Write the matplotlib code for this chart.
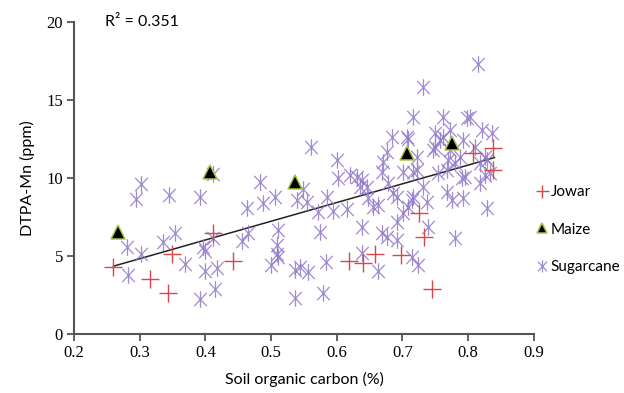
import numpy as np
import matplotlib
matplotlib.use("Agg")
import matplotlib.pyplot as plt
from matplotlib.path import Path

# Jowar (red +)
jowar_x = [0.259, 0.316, 0.343, 0.349, 0.412, 0.442, 0.619, 0.640, 0.658, 0.698,
           0.725, 0.733, 0.745, 0.807, 0.838, 0.838]
jowar_y = [4.3, 3.5, 2.65, 5.15, 6.5, 4.7, 4.7, 4.55, 5.1, 5.05,
           7.75, 6.2, 2.9, 11.6, 11.9, 10.5]

# Maize (black triangles)
maize_x = [0.267, 0.407, 0.536, 0.707, 0.775]
maize_y = [6.55, 10.4, 9.75, 11.6, 12.25]

# Sugarcane (purple asterisks)
sugar_x = [0.281, 0.282, 0.294, 0.302, 0.302, 0.335, 0.345, 0.354, 0.369, 0.392,
           0.392, 0.396, 0.399, 0.399, 0.412, 0.412, 0.415, 0.418, 0.456, 0.465,
           0.463, 0.483, 0.488, 0.506, 0.500, 0.509, 0.509, 0.511, 0.511, 0.536,
           0.536, 0.539, 0.549, 0.555, 0.556, 0.561, 0.571, 0.574, 0.579, 0.584,
           0.585, 0.594, 0.600, 0.602, 0.616, 0.620, 0.631, 0.635, 0.638, 0.646,
           0.638, 0.638, 0.647, 0.655, 0.663, 0.663, 0.669, 0.669, 0.676, 0.670,
           0.676, 0.684, 0.678, 0.686, 0.692, 0.692, 0.692, 0.701, 0.701, 0.707,
           0.708, 0.714, 0.716, 0.716, 0.722, 0.731, 0.731, 0.737, 0.739, 0.714,
           0.724, 0.749, 0.749, 0.754, 0.762, 0.762, 0.768, 0.768, 0.769, 0.772,
           0.775, 0.780, 0.780, 0.788, 0.792, 0.792, 0.795, 0.798, 0.803, 0.810,
           0.815, 0.818, 0.818, 0.821, 0.829, 0.833, 0.829, 0.836, 0.544, 0.746,
           0.757, 0.826, 0.826, 0.791, 0.716, 0.772, 0.708, 0.722]
sugar_y = [5.58, 3.78, 8.65, 9.62, 5.13, 5.90, 8.91, 6.47, 4.49, 8.78,
           2.24, 5.58, 5.32, 4.04, 10.26, 6.15, 2.88, 4.23, 5.96, 6.47,
           8.08, 9.74, 8.40, 8.78, 4.42, 5.71, 5.13, 6.67, 4.94, 4.10,
           2.31, 8.59, 9.29, 8.46, 3.97, 11.99, 7.82, 6.54, 2.63, 4.62,
           8.78, 7.88, 11.15, 10.0, 8.01, 10.19, 10.06, 9.42, 9.87, 9.42,
           6.86, 5.19, 8.72, 8.14, 8.27, 4.04, 10.38, 6.47, 6.22, 11.03,
           11.67, 12.63, 9.68, 9.04, 8.78, 7.18, 6.03, 10.38, 7.76, 12.63,
           8.14, 8.59, 13.91, 8.78, 11.35, 15.83, 9.42, 8.46, 6.86, 4.94,
           4.42, 12.88, 11.99, 10.32, 13.91, 12.63, 10.51, 9.10, 11.15, 13.08,
           8.59, 10.96, 6.15, 11.35, 12.44, 8.72, 10.06, 13.85, 13.91, 11.99,
           17.31, 10.96, 9.68, 13.08, 11.15, 10.32, 8.08, 12.88, 4.29, 11.79,
           12.44, 11.35, 10.19, 10.0, 10.38, 11.79, 12.5, 10.5]

# regression line
fit_slope = 12.0
fit_intercept = 1.23
fit_range = [0.26, 0.84]
r2_text = "R\u00b2 = 0.351"

sans = ["Lato", "DejaVu Sans"]
serif = ["Liberation Serif", "DejaVu Serif"]

# asterisk: vertical bar plus an X
star = Path([(0, -1), (0, 1), (-0.75, -0.8), (0.75, 0.8), (-0.75, 0.8), (0.75, -0.8)],
            [Path.MOVETO, Path.LINETO, Path.MOVETO, Path.LINETO, Path.MOVETO, Path.LINETO])

fig = plt.figure(figsize=(6.24, 3.93), dpi=100)
ax = fig.add_axes([0.1186, 0.150, 0.737, 0.794])

fx = np.array(fit_range)
ax.plot(fx, fit_intercept + fit_slope * fx, color="#222222", lw=1.1, zorder=2)

ax.plot(sugar_x, sugar_y, linestyle="none", marker=star, markersize=12,
        markeredgewidth=0.9, color="#9077c8", alpha=0.85, label="Sugarcane", zorder=3)
ax.plot(jowar_x, jowar_y, linestyle="none", marker="+", markersize=13,
        markeredgewidth=1.0, color="#d9474a", label="Jowar", zorder=4)
ax.plot(maize_x, maize_y, linestyle="none", marker="^", markersize=9.5,
        markerfacecolor="black", markeredgecolor="#a6c34a", markeredgewidth=1.1,
        label="Maize", zorder=5)

ax.set_xlim(0.2, 0.9)
ax.set_ylim(0, 20)
ax.set_xticks([0.2, 0.3, 0.4, 0.5, 0.6, 0.7, 0.8, 0.9])
ax.set_yticks([0, 5, 10, 15, 20])
ax.set_xticklabels(["0.2", "0.3", "0.4", "0.5", "0.6", "0.7", "0.8", "0.9"],
                   family=serif, fontsize=12)
ax.set_yticklabels(["0", "5", "10", "15", "20"], family=serif, fontsize=12)

for s in ["top", "right"]:
    ax.spines[s].set_visible(False)
for s in ["left", "bottom"]:
    ax.spines[s].set_color("#555555")
    ax.spines[s].set_linewidth(1.5)
ax.tick_params(direction="out", length=5, width=1.3, color="#555555", pad=3)

ax.set_xlabel("Soil organic carbon (%)", family=sans, fontsize=11.5, labelpad=8)
ax.set_ylabel("DTPA-Mn (ppm)", family=sans, fontsize=11.5, labelpad=8)

ax.text(0.247, 20, r2_text, family=sans, fontsize=11.5, va="center", ha="left")

h, l = ax.get_legend_handles_labels()
order = [1, 2, 0]
leg = fig.legend([h[i] for i in order], [l[i] for i in order], loc="upper left",
                 bbox_to_anchor=(0.852, 0.545), frameon=False, prop={"family": sans, "size": 11},
                 markerscale=0.72, handlelength=0.6, handletextpad=0.25, labelspacing=1.55,
                 borderaxespad=0)

fig.savefig("out.png", dpi=100)
